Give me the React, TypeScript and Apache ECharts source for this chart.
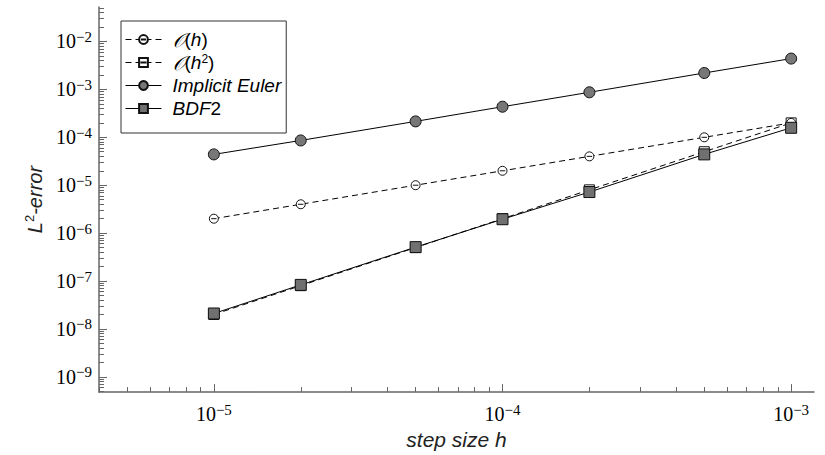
import { useEffect, useRef } from "react";
import * as echarts from "echarts";

// Step sizes h and the measured L2 errors of each scheme
const stepSizes = [1e-5, 2e-5, 5e-5, 1e-4, 2e-4, 5e-4, 1e-3];
const orderOne = [2e-6, 4e-6, 1e-5, 2e-5, 4e-5, 1e-4, 2e-4];
const orderTwo = [2e-8, 8e-8, 5e-7, 2e-6, 8e-6, 5e-5, 2e-4];
const implicitEuler = [4.4e-5, 8.6e-5, 2.15e-4, 4.35e-4, 8.7e-4, 2.2e-3, 4.4e-3];
const bdf2 = [2.1e-8, 8.3e-8, 5.1e-7, 1.95e-6, 7.2e-6, 4.4e-5, 1.58e-4];

// Decade exponents that carry a label, and the mantissas of the minor ticks
const xDecades = [-5, -4, -3];
const yDecades = [-9, -8, -7, -6, -5, -4, -3, -2];
const minorMantissas = [2, 3, 4, 5, 6, 7, 8, 9];

// Visible ranges of both axes
const X_RANGE = [4e-6, 1.2e-3];
const Y_RANGE = [4.8e-10, 5.25e-2];

const lg = Math.log10;

const toPoints = (errors: number[]) => stepSizes.map((h, i) => [lg(h), lg(errors[i])]);

function minorTicks(lo: number, hi: number): number[] {
  const out: number[] = [];
  for (let d = Math.floor(lg(lo)); d <= Math.ceil(lg(hi)); d++) {
    for (const m of minorMantissas) {
      const v = m * Math.pow(10, d);
      if (v >= lo && v <= hi) out.push(lg(v));
    }
  }
  return out;
}

const powerLabel = (v: number) => `{base|10}{expo|−${Math.abs(Math.round(v))}}`;

const labelRich = {
  base: { fontFamily: "Liberation Serif", fontSize: 20, lineHeight: 24, color: "#000" },
  expo: { fontFamily: "Liberation Serif", fontSize: 15, lineHeight: 15, verticalAlign: "top" as const, color: "#000" },
};

const AXIS_COLOR = "#666";
const NAME_FONT = "Liberation Sans";

const circleBar = "path://M0,10 A10,10 0 1,1 20,10 A10,10 0 1,1 0,10 Z M4,10 L16,10";
const squareBar = "path://M0,0 L20,0 L20,20 L0,20 Z M3,10 L17,10";

const legendLabels: Record<string, string> = {
  "O(h)": "{gap|}{scr|𝒪}{up|(}{it|h}{up|)}",
  "O(h2)": "{gap|}{scr|𝒪}{up|(}{it|h}{sup|2}{up|)}",
  "Implicit Euler": "{gap|}{it|Implicit Euler}",
  BDF2: "{gap|}{it|BDF}{up|2}",
};

export default function App() {
  const ref = useRef<HTMLDivElement>(null);

  useEffect(() => {
    if (!ref.current) return;
    const chart = echarts.init(ref.current, null, { renderer: "svg" });

    const xMin = lg(X_RANGE[0]);
    const xMax = lg(X_RANGE[1]);
    const yMin = lg(Y_RANGE[0]);
    const yMax = lg(Y_RANGE[1]);

    const mainX = {
      type: "value" as const,
      min: xMin,
      max: xMax,
      position: "bottom" as const,
      axisLine: { show: true, lineStyle: { color: AXIS_COLOR, width: 1.5 } },
      axisTick: { show: true, inside: true, length: 8, customValues: xDecades, lineStyle: { color: AXIS_COLOR, width: 1 } },
      axisLabel: {
        show: true,
        customValues: xDecades,
        margin: 10,
        fontFamily: "Liberation Serif",
        fontSize: 20,
        formatter: powerLabel,
        rich: labelRich,
      },
      splitLine: { show: false },
      name: "step size h",
      nameLocation: "middle" as const,
      nameGap: 28,
      nameTextStyle: { fontFamily: NAME_FONT, fontStyle: "italic" as const, fontSize: 21, color: "#222" },
    };
    const minorX = {
      type: "value" as const,
      min: xMin,
      max: xMax,
      position: "bottom" as const,
      axisLine: { show: false },
      axisTick: { show: true, inside: true, length: 5, customValues: minorTicks(X_RANGE[0], X_RANGE[1]), lineStyle: { color: AXIS_COLOR, width: 1 } },
      axisLabel: { show: false },
      splitLine: { show: false },
    };
    const mainY = {
      type: "value" as const,
      min: yMin,
      max: yMax,
      position: "left" as const,
      axisLine: { show: true, lineStyle: { color: AXIS_COLOR, width: 1.5 } },
      axisTick: { show: true, inside: true, length: 8, customValues: yDecades, lineStyle: { color: AXIS_COLOR, width: 1 } },
      axisLabel: {
        show: true,
        customValues: yDecades,
        margin: 7,
        fontFamily: "Liberation Serif",
        fontSize: 20,
        formatter: powerLabel,
        rich: labelRich,
      },
      splitLine: { show: false },
      name: "{nm|L}{nsup|2}{nm|-error}",
      nameLocation: "middle" as const,
      nameRotate: 90,
      nameGap: 40,
      nameTextStyle: {
        fontSize: 20,
        rich: {
          nm: { fontFamily: NAME_FONT, fontStyle: "italic" as const, fontSize: 20, lineHeight: 24, color: "#222" },
          nsup: { fontFamily: NAME_FONT, fontSize: 13, verticalAlign: "top" as const, lineHeight: 13, color: "#222" },
        },
      },
    };
    const minorY = {
      type: "value" as const,
      min: yMin,
      max: yMax,
      position: "left" as const,
      axisLine: { show: false },
      axisTick: { show: true, inside: true, length: 5, customValues: minorTicks(Y_RANGE[0], Y_RANGE[1]), lineStyle: { color: AXIS_COLOR, width: 1 } },
      axisLabel: { show: false },
      splitLine: { show: false },
    };

    const line = (name: string, data: number[], dashed: boolean, symbol: string, size: number, fill: string, z: number) => ({
      name,
      type: "line" as const,
      data: toPoints(data),
      xAxisIndex: 0,
      yAxisIndex: 0,
      symbol,
      symbolSize: size,
      symbolKeepAspect: true,
      showAllSymbol: true,
      z,
      lineStyle: { color: "#000", width: 1, type: dashed ? [6, 4] : "solid" },
      itemStyle: { color: fill, borderColor: "#111", borderWidth: 1 },
      emphasis: { disabled: true },
    });

    chart.setOption({
      animation: false,
      backgroundColor: "#fff",
      grid: { left: 99, right: 11, top: 7, bottom: 46, containLabel: false },
      xAxis: [mainX, minorX],
      yAxis: [mainY, minorY],
      legend: {
        left: 121,
        top: 21,
        orient: "vertical",
        padding: [9, 5, 15, 4],
        itemGap: 4,
        itemWidth: 36,
        itemHeight: 11,
        borderColor: "#333",
        borderWidth: 1,
        backgroundColor: "#fff",
        selectedMode: false,
        lineStyle: { width: 1 },
        formatter: (name: string) => legendLabels[name] ?? name,
        textStyle: {
          color: "#000",
          fontSize: 19,
          rich: {
            gap: { width: 6 },
            it: { fontFamily: NAME_FONT, fontStyle: "italic", fontSize: 19, color: "#000" },
            up: { fontFamily: NAME_FONT, fontSize: 19, color: "#000" },
            scr: { fontFamily: "DejaVu Sans, Liberation Serif", fontStyle: "italic", fontSize: 19, color: "#000" },
            sup: { fontFamily: NAME_FONT, fontSize: 12, verticalAlign: "top", lineHeight: 12, color: "#000" },
          },
        },
        data: ["O(h)", "O(h2)", "Implicit Euler", "BDF2"],
      },
      series: [
        line("O(h)", orderOne, true, circleBar, 9, "#fff", 3),
        line("O(h2)", orderTwo, true, squareBar, 10, "#fff", 2),
        line("Implicit Euler", implicitEuler, false, "circle", 11, "#777", 4),
        line("BDF2", bdf2, false, "rect", 11, "#707070", 5),
      ],
    });

    return () => chart.dispose();
  }, []);

  return (
    <div
      ref={ref}
      style={{ position: "fixed", left: 0, top: 0, width: 825, height: 455, background: "#fff" }}
    />
  );
}
